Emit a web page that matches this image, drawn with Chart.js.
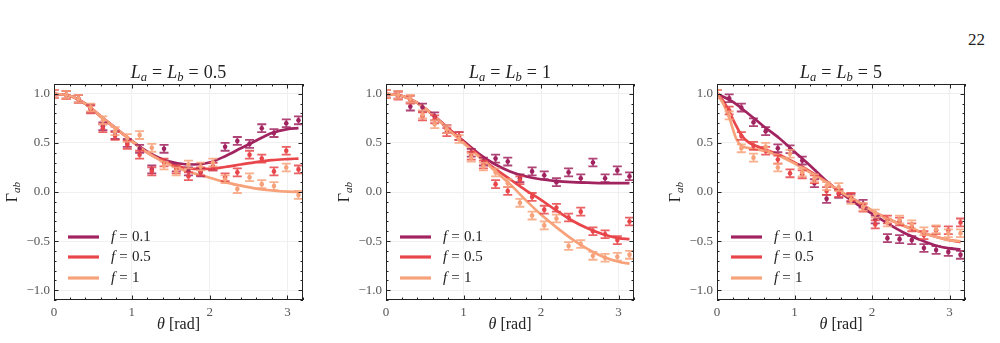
<!DOCTYPE html>
<html><head><meta charset="utf-8">
<script src="https://cdn.jsdelivr.net/npm/chart.js@4/dist/chart.umd.min.js"></script>
<style>
html,body{margin:0;padding:0;background:#fff;width:1000px;height:343px;overflow:hidden;}
.p{position:absolute;top:0;width:330px;height:343px;}
#pg{position:absolute;left:968px;top:30px;font:17px "Liberation Serif",serif;color:#222;}
</style></head><body>
<div id="pg">22</div>
<div class="p" style="left:0px"><canvas id="c0"></canvas></div>
<div class="p" style="left:332px"><canvas id="c1"></canvas></div>
<div class="p" style="left:663px"><canvas id="c2"></canvas></div>
<script>
// ---------- data ----------
const THETA = [0, 0.157, 0.314, 0.471, 0.628, 0.785, 0.942, 1.100, 1.257, 1.414, 1.571, 1.728, 1.885, 2.042, 2.199, 2.356, 2.513, 2.670, 2.827, 2.985, 3.142];
const F_LABELS = ['0.1', '0.5', '1'];
const TITLES = ['0.5', '1', '5'];
const ERR = 0.04;

// panel 1: La = Lb = 0.5 (measured points)
const P1_F01 = [1.0, 0.99, 0.95, 0.85, 0.67, 0.58, 0.50, 0.44, 0.23, 0.44, 0.25, 0.21, 0.20, 0.26, 0.46, 0.52, 0.49, 0.65, 0.60, 0.70, 0.73];
const P1_F05 = [1.0, 0.99, 0.95, 0.84, 0.65, 0.57, 0.48, 0.38, 0.21, 0.30, 0.23, 0.16, 0.21, 0.26, 0.15, 0.20, 0.38, 0.34, 0.21, 0.42, 0.23];
const P1_F1  = [1.0, 0.99, 0.95, 0.86, 0.73, 0.62, 0.55, 0.58, 0.45, 0.27, 0.21, 0.28, 0.26, 0.30, 0.13, 0.03, 0.15, 0.08, 0.06, 0.25, -0.03];
// panel 2: La = Lb = 1
const P2_F01 = [1.0, 0.99, 0.87, 0.86, 0.77, 0.64, 0.57, 0.40, 0.31, 0.34, 0.31, 0.14, 0.21, 0.17, 0.10, 0.20, 0.14, 0.30, 0.14, 0.22, 0.16];
const P2_F05 = [1.0, 0.98, 0.94, 0.77, 0.74, 0.61, 0.57, 0.37, 0.28, 0.08, 0.01, 0.12, -0.05, -0.18, -0.16, -0.26, -0.20, -0.40, -0.43, -0.49, -0.30];
const P2_F1  = [1.0, 0.99, 0.95, 0.79, 0.69, 0.64, 0.54, 0.35, 0.26, 0.20, 0.09, -0.11, -0.24, -0.34, -0.27, -0.55, -0.53, -0.65, -0.67, -0.66, -0.64];
// panel 3: La = Lb = 5
const P3_F01 = [1.0, 0.955, 0.86, 0.71, 0.62, 0.445, 0.435, 0.32, 0.09, -0.07, -0.02, -0.06, -0.12, -0.28, -0.47, -0.48, -0.49, -0.57, -0.59, -0.61, -0.64];
const P3_F05 = [1.0, 0.83, 0.57, 0.47, 0.42, 0.33, 0.19, 0.18, 0.13, 0.01, -0.01, -0.05, -0.16, -0.33, -0.28, -0.30, -0.36, -0.44, -0.39, -0.39, -0.31];
const P3_F1  = [1.0, 0.78, 0.445, 0.35, 0.46, 0.25, 0.39, 0.20, 0.14, 0.06, 0.05, -0.08, -0.15, -0.22, -0.31, -0.28, -0.33, -0.40, -0.38, -0.42, -0.42];

// theory curves
const LX = [0, 0.2, 0.4, 0.6, 0.8, 1.0, 1.2, 1.4, 1.6, 1.8, 2.0, 2.2, 2.4, 2.6, 2.8, 3.0, 3.142];
const L1_F01 = [1.0, 0.98, 0.90, 0.77, 0.645, 0.52, 0.41, 0.33, 0.29, 0.28, 0.30, 0.365, 0.445, 0.525, 0.60, 0.64, 0.65];
const L1_F05 = [1.0, 0.98, 0.90, 0.77, 0.645, 0.52, 0.40, 0.315, 0.26, 0.235, 0.235, 0.255, 0.28, 0.305, 0.325, 0.335, 0.34];
const L1_F1  = [1.0, 0.98, 0.90, 0.77, 0.645, 0.52, 0.40, 0.31, 0.24, 0.19, 0.145, 0.10, 0.065, 0.035, 0.015, 0.003, 0.0];
const L2_F01 = [1.0, 0.98, 0.91, 0.79, 0.65, 0.52, 0.39, 0.285, 0.21, 0.16, 0.13, 0.11, 0.10, 0.095, 0.09, 0.09, 0.09];
const L2_F05 = [1.0, 0.98, 0.91, 0.79, 0.65, 0.51, 0.37, 0.24, 0.13, 0.02, -0.08, -0.19, -0.29, -0.37, -0.43, -0.47, -0.48];
const L2_F1  = [1.0, 0.98, 0.91, 0.79, 0.64, 0.50, 0.36, 0.22, 0.08, -0.08, -0.23, -0.36, -0.48, -0.58, -0.66, -0.71, -0.73];
const L3_F01 = [1.0, 0.92, 0.80, 0.67, 0.55, 0.41, 0.27, 0.12, -0.01, -0.12, -0.22, -0.32, -0.41, -0.48, -0.54, -0.575, -0.585];
const LX3 = [0, 0.08, 0.157, 0.25, 0.314, 0.4, 0.5, 0.6, 0.8, 1.0, 1.2, 1.4, 1.6, 1.8, 2.0, 2.2, 2.4, 2.6, 2.8, 3.0, 3.142];
const L3_F05 = [1.0, 0.93, 0.82, 0.67, 0.58, 0.51, 0.47, 0.44, 0.38, 0.30, 0.21, 0.11, 0.0, -0.09, -0.19, -0.27, -0.34, -0.40, -0.45, -0.49, -0.51];
const L3_F1  = [1.0, 0.90, 0.76, 0.54, 0.47, 0.45, 0.435, 0.42, 0.37, 0.29, 0.20, 0.105, 0.0, -0.09, -0.19, -0.27, -0.34, -0.40, -0.45, -0.49, -0.50];

const X_TICKS = [0, 1, 2, 3];
const Y_TICKS = [-1.0, -0.5, 0.0, 0.5, 1.0];

const COLORS = ['#a1235f', '#e8464a', '#f7a27b'];
const FONT = '"Liberation Serif", "DejaVu Serif", serif';

// ---------- helpers ----------
// segment: {t, it, sub, gap (extra em space on both sides)}
function drawMath(ctx, segs, x, y, size, align) {
  const sub = 0.7;
  const widths = segs.map(s => {
    const fs = s.sub ? size * sub : size;
    ctx.font = (s.it ? 'italic ' : '') + fs + 'px ' + FONT;
    return ctx.measureText(s.t).width + 2 * (s.gap || 0) * size;
  });
  const total = widths.reduce((a, b) => a + b, 0);
  let cx = align === 'left' ? x : x - total / 2;
  ctx.textBaseline = 'middle';
  ctx.textAlign = 'left';
  segs.forEach((s, i) => {
    const fs = s.sub ? size * sub : size;
    ctx.font = (s.it ? 'italic ' : '') + fs + 'px ' + FONT;
    ctx.fillText(s.t, cx + (s.gap || 0) * size, s.sub ? y + size * 0.28 : y);
    cx += widths[i];
  });
}
const EQ = {t: '=', gap: 0.28};
const pts = (xs, ys) => ys.map((v, i) => ({x: xs[i], y: v}));

const errorBars = {
  id: 'errorBars',
  afterDatasetDraw(chart, args) {
    const ds = chart.data.datasets[args.index];
    if (!ds.errBar) return;
    const ctx = chart.ctx, ys = chart.scales.y, a = chart.chartArea;
    ctx.save();
    ctx.beginPath(); ctx.rect(a.left, a.top, a.right - a.left, a.bottom - a.top); ctx.clip();
    ctx.globalAlpha = 0.85;
    ctx.strokeStyle = ds.borderColor; ctx.lineWidth = 1.8;
    args.meta.data.forEach((el, i) => {
      const v = ds.data[i].y;
      const t = ys.getPixelForValue(v + ERR), b = ys.getPixelForValue(v - ERR);
      ctx.beginPath();
      ctx.moveTo(el.x, t); ctx.lineTo(el.x, b);
      ctx.moveTo(el.x - 4.5, t); ctx.lineTo(el.x + 4.5, t);
      ctx.moveTo(el.x - 4.5, b); ctx.lineTo(el.x + 4.5, b);
      ctx.stroke();
    });
    ctx.restore();
  }
};

const frame = {
  id: 'frame',
  afterDraw(chart) {
    const ctx = chart.ctx, a = chart.chartArea, xs = chart.scales.x, ys = chart.scales.y;
    const o = chart.options.plugins.frame;
    ctx.save();
    ctx.strokeStyle = '#222'; ctx.lineWidth = 1;
    ctx.strokeRect(a.left + 0.5, a.top + 0.5, a.right - a.left - 1, a.bottom - a.top - 1);
    ctx.beginPath();
    for (let k = 0; k <= 16; k++) {
      const v = k * 0.2; if (v > 3.2) break;
      const major = Math.abs(v - Math.round(v)) < 1e-6;
      const len = major ? 4.5 : 2.5;
      const px = Math.round(xs.getPixelForValue(v)) + 0.5;
      ctx.moveTo(px, a.bottom); ctx.lineTo(px, a.bottom - len);
      ctx.moveTo(px, a.top); ctx.lineTo(px, a.top + len);
    }
    for (let k = -11; k <= 11; k++) {
      const v = k * 0.1;
      const major = k % 5 === 0;
      const len = major ? 4.5 : 2.5;
      const py = Math.round(ys.getPixelForValue(v)) + 0.5;
      ctx.moveTo(a.left, py); ctx.lineTo(a.left + len, py);
      ctx.moveTo(a.right, py); ctx.lineTo(a.right - len, py);
    }
    ctx.stroke();
    // title
    ctx.fillStyle = '#222';
    const cx = (a.left + a.right) / 2;
    drawMath(ctx, [{t: 'L', it: true}, {t: 'a', it: true, sub: true}, EQ, {t: 'L', it: true}, {t: 'b', it: true, sub: true}, EQ, {t: o.title}], cx, 73, 18);
    // axis titles
    drawMath(ctx, [{t: 'θ', it: true}, {t: ' [rad]'}], cx, 325, 16);
    ctx.save();
    ctx.translate(a.left - 41, (a.top + a.bottom) / 2);
    ctx.rotate(-Math.PI / 2);
    drawMath(ctx, [{t: 'Γ'}, {t: 'ab', it: true, sub: true}], 0, 0, 16);
    ctx.restore();
    // legend
    const ly = [237, 257, 278];
    F_LABELS.forEach((f, i) => {
      ctx.strokeStyle = COLORS[i]; ctx.lineWidth = 3.2;
      ctx.beginPath(); ctx.moveTo(a.left + 14, ly[i]); ctx.lineTo(a.left + 45, ly[i]); ctx.stroke();
      ctx.fillStyle = '#222';
      drawMath(ctx, [{t: 'f', it: true}, EQ, {t: f}], a.left + 57, ly[i], 15, 'left');
    });
    ctx.restore();
  }
};

function makeChart(id, title, P, L, LXs, padRight) {
  const datasets = [];
  for (let i = 2; i >= 0; i--) {
    datasets.push({type: 'scatter', data: pts(THETA, P[i]), borderColor: COLORS[i], backgroundColor: COLORS[i],
      pointRadius: 2.3, pointBorderWidth: 0, showLine: false, errBar: true});
  }
  for (let i = 2; i >= 0; i--) {
    datasets.push({type: 'line', data: pts(LXs[i], L[i]), borderColor: COLORS[i], borderWidth: 2.7,
      pointRadius: 0, cubicInterpolationMode: 'monotone', fill: false});
  }
  return new Chart(document.getElementById(id), {
    type: 'line',
    data: {datasets},
    options: {
      responsive: true, maintainAspectRatio: false, animation: false,
      layout: {padding: {top: 84, right: padRight, left: 0, bottom: 0}},
      plugins: {legend: {display: false}, tooltip: {enabled: false}, frame: {title}},
      scales: {
        x: {type: 'linear', min: 0, max: 3.2,
          afterFit: s => { s.height = 43; },
          afterBuildTicks: s => { s.ticks = X_TICKS.map(v => ({value: v})); },
          grid: {color: '#ececec', lineWidth: 0.8, drawTicks: false},
          border: {display: false},
          ticks: {padding: 5, color: '#555', font: {family: FONT, size: 13}, callback: v => String(v)}},
        y: {type: 'linear', min: -1.1, max: 1.1,
          afterFit: s => { s.width = 54; },
          afterBuildTicks: s => { s.ticks = Y_TICKS.map(v => ({value: v})); },
          grid: {color: '#ececec', lineWidth: 0.8, drawTicks: false},
          border: {display: false},
          ticks: {padding: 4, color: '#555', font: {family: FONT, size: 13},
            callback: v => Number(v).toFixed(1).replace('-', '\u2212')}}
      }
    },
    plugins: [errorBars, frame]
  });
}

makeChart('c0', TITLES[0], [P1_F01, P1_F05, P1_F1], [L1_F01, L1_F05, L1_F1], [LX, LX, LX], 27);
makeChart('c1', TITLES[1], [P2_F01, P2_F05, P2_F1], [L2_F01, L2_F05, L2_F1], [LX, LX, LX], 28);
makeChart('c2', TITLES[2], [P3_F01, P3_F05, P3_F1], [L3_F01, L3_F05, L3_F1], [LX, LX3, LX3], 28);
</script>
</body></html>
